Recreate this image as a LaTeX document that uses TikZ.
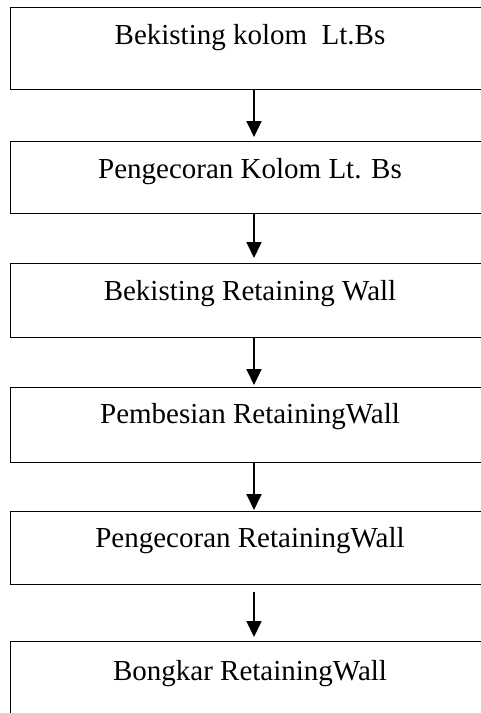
\documentclass[tikz,border=0pt]{standalone}
\usepackage{fontspec}
\setmainfont{Liberation Serif}
\usetikzlibrary{arrows.meta}
\begin{document}
\begin{tikzpicture}[x=1pt,y=1pt,
  stepbox/.style={draw=black,line width=1.2pt,minimum width=500pt,anchor=north west,inner sep=0pt},
  steptext/.style={anchor=base,inner sep=0pt,font=\fontsize{29}{34}\selectfont},
  flow/.style={line width=1.8pt,-{Triangle[width=15pt,length=16pt]}}]
\useasboundingbox (0,0) rectangle (481,-713);
\clip (0,0) rectangle (481,-713);
% process boxes (they run past the right edge; the last one past the bottom)
\node[stepbox,minimum height=82pt] (b1) at (10,-7) {};
\node[stepbox,minimum height=72pt] (b2) at (10,-141) {};
\node[stepbox,minimum height=74pt] (b3) at (10,-263) {};
\node[stepbox,minimum height=75pt] (b4) at (10,-387) {};
\node[stepbox,minimum height=73pt] (b5) at (10,-511) {};
\node[stepbox,minimum height=100pt] (b6) at (10,-641) {};
% labels
\node[steptext] (t1) at (250,-44) {Bekisting kolom\ \ Lt.Bs};
\node[steptext] (t2) at (250,-178) {Pengecoran Kolom Lt. Bs};
\node[steptext] (t3) at (250,-300) {Bekisting Retaining Wall};
\node[steptext] (t4) at (250,-423) {Pembesian RetainingWall};
\node[steptext] (t5) at (250,-547) {Pengecoran RetainingWall};
\node[steptext] (t6) at (250,-680) {Bongkar RetainingWall};
% arrow column
\coordinate (ax) at (254,0);
\draw[flow,shorten >=4pt] (b1.south -| ax) -- (b2.north -| ax);
\draw[flow,shorten >=5pt] (b2.south -| ax) -- (b3.north -| ax);
\draw[flow,shorten >=2pt] (b3.south -| ax) -- (b4.north -| ax);
\draw[flow,shorten >=1pt] (b4.south -| ax) -- (b5.north -| ax);
\draw[flow,shorten <=7pt,shorten >=4pt] (b5.south -| ax) -- (b6.north -| ax);
\end{tikzpicture}
\end{document}
